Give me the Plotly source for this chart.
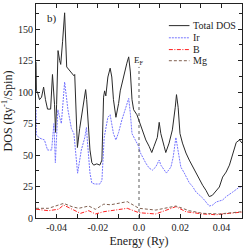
import plotly.graph_objects as go

# ---- data ----
energy_total = [-0.0500, -0.0498, -0.0493, -0.0483, -0.0473, -0.0463, -0.0454, -0.0444, -0.0429, -0.0420,
                -0.0410, -0.0405, -0.0400, -0.0393, -0.0385, -0.0380, -0.0371, -0.0361, -0.0351, -0.0341,
                -0.0328, -0.0316, -0.0312, -0.0299, -0.0288, -0.0273, -0.0259, -0.0254, -0.0246, -0.0238,
                -0.0229, -0.0220, -0.0205, -0.0190, -0.0180, -0.0172, -0.0167, -0.0161, -0.0151, -0.0140,
                -0.0132, -0.0124, -0.0112, -0.0099, -0.0091, -0.0080, -0.0067, -0.0059, -0.0050, -0.0042,
                -0.0034, -0.0026, -0.0010, 0.0006, 0.0016, 0.0033, 0.0049, 0.0062, 0.0073, 0.0089,
                0.0098, 0.0106, 0.0122, 0.0130, 0.0146, 0.0162, 0.0176, 0.0182, 0.0190, 0.0199,
                0.0211, 0.0228, 0.0244, 0.0260, 0.0277, 0.0293, 0.0309, 0.0325, 0.0341, 0.0356,
                0.0366, 0.0390, 0.0406, 0.0423, 0.0439, 0.0455, 0.0472, 0.0488, 0.0500]
dos_total = [124, 101, 100, 94, 96, 104, 94, 86.5, 86.5, 114,
             90, 68, 90, 133, 125, 122, 140, 163, 120, 118,
             116, 113, 114, 56, 71, 86, 102, 94, 70, 54,
             44, 42, 43, 42, 46, 96, 101, 97, 112, 119,
             112, 94, 80, 91, 101, 109, 116, 123, 128, 116,
             94, 86, 82, 75, 70, 62, 57, 52, 57, 64,
             76, 67, 57, 52, 59.5, 70, 88, 98, 88, 67,
             59.5, 51.6, 46, 41, 35.7, 30, 26, 22, 17, 18,
             20, 24.6, 32.5, 36.5, 42, 51.6, 60, 62, 59.5]

energy_ir = [-0.0500, -0.0498, -0.0483, -0.0459, -0.0444, -0.0424, -0.0420, -0.0413, -0.0406, -0.0394,
             -0.0385, -0.0377, -0.0361, -0.0345, -0.0328, -0.0316, -0.0298, -0.0280, -0.0263, -0.0255,
             -0.0251, -0.0238, -0.0229, -0.0215, -0.0190, -0.0180, -0.0169, -0.0161, -0.0151, -0.0140,
             -0.0124, -0.0112, -0.0099, -0.0083, -0.0067, -0.0050, -0.0042, -0.0034, -0.0018, -0.0001,
             0.0006, 0.0016, 0.0033, 0.0049, 0.0065, 0.0081, 0.0098, 0.0106, 0.0122, 0.0133,
             0.0155, 0.0166, 0.0179, 0.0190, 0.0203, 0.0220, 0.0244, 0.0260, 0.0277, 0.0309,
             0.0341, 0.0358, 0.0374, 0.0406, 0.0423, 0.0455, 0.0488, 0.0500]
dos_ir = [86, 66, 63.5, 62, 54, 54, 62, 75, 44, 86,
          80, 75, 108, 86, 71, 67, 35.6, 54, 64, 72,
          62, 35.7, 27.8, 27, 27, 30, 64, 72, 80, 82,
          67, 62, 68, 78, 86, 95, 83, 67, 62, 56.6,
          52, 48.4, 43.6, 39.7, 38, 40.5, 46, 42, 38, 35.7,
          40.5, 48.4, 64, 51.6, 40.5, 35.7, 28, 25, 20.6, 15.9,
          9.5, 10.3, 12.7, 14.3, 17, 20.6, 24.6, 24.6]

energy_b = [-0.0500, -0.0439, -0.0390, -0.0366, -0.0325, -0.0284, -0.0244, -0.0211, -0.0171, -0.0114,
            -0.0057, 0.0000, 0.0081, 0.0179, 0.0228, 0.0309, 0.0374, 0.0439, 0.0500]
dos_b = [7, 5.8, 7, 10.3, 7, 3.7, 5.8, 3.2, 5, 6.3,
         7.7, 4.2, 3.2, 9, 5, 3.2, 2.6, 3.7, 4.7]

energy_mg = [-0.0500, -0.0439, -0.0406, -0.0366, -0.0325, -0.0293, -0.0244, -0.0211, -0.0171, -0.0138,
             -0.0057, 0.0000, 0.0081, 0.0179, 0.0244, 0.0309, 0.0390, 0.0500]
dos_mg = [7.7, 7.7, 9.5, 11.6, 9, 7.7, 9.5, 6.9, 11, 10.5,
          13, 7.7, 6.3, 9.5, 5.8, 3.7, 3.2, 5]

series_names = ["Total DOS", "Ir", "B", "Mg"]
series_colors = ["#2a2a2a", "#7575ff", "#ff2020", "#806050"]
series_dashes = ["solid", "2px,1px", "4px,1.5px,1px,1.5px", "3px,2px"]

fermi_energy = 0.0
fermi_top = 120

x_tickvals = [-0.04, -0.02, 0.0, 0.02, 0.04]
x_ticktext = ["-0.04", "-0.02", "0.0", "0.02", "0.04"]
y_tickvals = [0, 25, 50, 75, 100, 125, 150]

FONT = "Liberation Serif"

fig = go.Figure()
data_sets = [(energy_total, dos_total), (energy_ir, dos_ir), (energy_b, dos_b), (energy_mg, dos_mg)]
for (ex, dy), name, col, dash in zip(data_sets, series_names, series_colors, series_dashes):
    fig.add_trace(go.Scatter(x=ex, y=dy, mode="lines", name=name, showlegend=False,
                             line=dict(color=col, width=1, dash=dash)))

# Fermi level
fig.add_shape(type="line", x0=fermi_energy, x1=fermi_energy, y0=0, y1=fermi_top,
              xref="x", yref="y", line=dict(color="#333", width=0.8, dash="dot"))
fig.add_annotation(x=fermi_energy, y=fermi_top, xref="x", yref="y", text="E<sub>F</sub>",
                   showarrow=False, xanchor="center", yanchor="bottom", yshift=-1,
                   font=dict(family=FONT, size=9, color="#222"))

# panel label
fig.add_annotation(x=0.045, y=0.97, xref="paper", yref="paper", text="b)", showarrow=False,
                   xanchor="left", yanchor="top", font=dict(family=FONT, size=11, color="#222"))

# manual legend
leg_y = [0.899, 0.842, 0.787, 0.735]
for i, (name, col, dash) in enumerate(zip(series_names, series_colors, series_dashes)):
    fig.add_shape(type="line", xref="paper", yref="paper", x0=0.645, x1=0.745,
                  y0=leg_y[i], y1=leg_y[i], line=dict(color=col, width=1, dash=dash))
    fig.add_annotation(x=0.752, y=leg_y[i], xref="paper", yref="paper", text=name, showarrow=False,
                       xanchor="left", yanchor="middle", font=dict(family=FONT, size=10, color="#222"))

axis_common = dict(showline=True, mirror="allticks", linecolor="#222", linewidth=1,
                   ticks="inside", ticklen=4, tickcolor="#222", showgrid=False, zeroline=False,
                   tickfont=dict(family=FONT, size=10, color="#222"))

fig.update_xaxes(range=[-0.05, 0.05], tickvals=x_tickvals, ticktext=x_ticktext,
                 minor=dict(dtick=0.01, tick0=0, ticks="inside", ticklen=4, tickcolor="#222"),
                 title=dict(text="Energy (Ry)", font=dict(family=FONT, size=12, color="#222"), standoff=4),
                 **axis_common)
fig.update_yaxes(range=[0, 170], tickvals=y_tickvals,
                 minor=dict(dtick=12.5, tick0=0, ticks="inside", ticklen=3, tickcolor="#222"),
                 title=dict(text="DOS (Ry<sup>-1</sup>/Spin)", font=dict(family=FONT, size=12, color="#222"), standoff=2),
                 **axis_common)

fig.update_layout(width=245, height=249, margin=dict(l=36, r=3, t=4, b=31),
                  plot_bgcolor="white", paper_bgcolor="white", showlegend=False)

fig.write_html("out.html", config={"displayModeBar": False},
               post_script="document.body.style.margin='0';document.body.style.overflow='hidden';")
